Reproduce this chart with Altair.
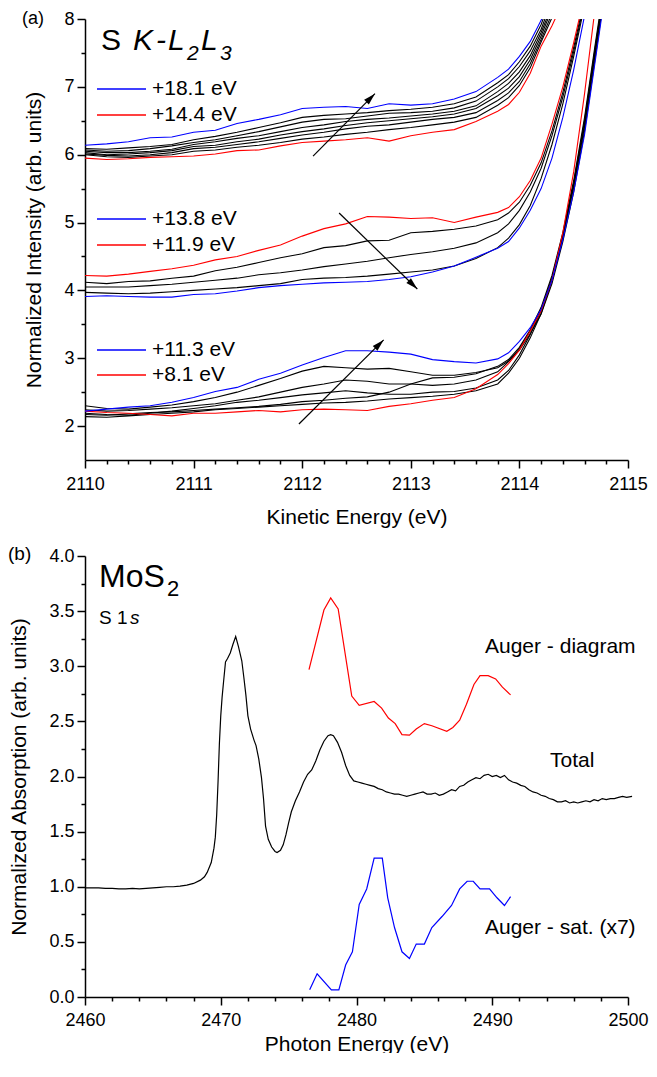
import math
import altair as alt
import pandas as pd

FONT = "Liberation Sans"
BLUE = "#0000ff"
RED = "#ff0000"
BLACK = "#000000"
W, H = 543, 441

# ---------------- panel (a): S K-L2L3 Auger spectra ----------------
E_GRID = [2110.0, 2110.2, 2110.4, 2110.6, 2110.8, 2111.0, 2111.2, 2111.4, 2111.6, 2111.8,
          2112.0, 2112.2, 2112.4, 2112.6, 2112.8, 2113.0, 2113.2, 2113.4, 2113.6, 2113.8,
          2113.9, 2114.0, 2114.1, 2114.2, 2114.3, 2114.4, 2114.5, 2114.6, 2114.7, 2114.8]

top_blue = [6.14, 6.16, 6.19, 6.25, 6.26, 6.33, 6.36, 6.46, 6.52, 6.59, 6.68, 6.70, 6.71, 6.68, 6.75,
            6.73, 6.75, 6.82, 6.93, 7.14, 7.26, 7.45, 7.67, 7.98, 8.40]
top_k1 = [6.09, 6.08, 6.10, 6.12, 6.15, 6.22, 6.27, 6.33, 6.40, 6.47, 6.55, 6.58, 6.60, 6.62, 6.65,
          6.67, 6.70, 6.75, 6.85, 7.06, 7.18, 7.37, 7.60, 7.92, 8.35]
top_k2 = [6.07, 6.05, 6.06, 6.09, 6.13, 6.18, 6.22, 6.28, 6.34, 6.41, 6.48, 6.52, 6.53, 6.57, 6.61,
          6.62, 6.64, 6.69, 6.79, 7.00, 7.12, 7.30, 7.53, 7.85, 8.28]
top_k3 = [6.05, 6.03, 6.03, 6.05, 6.08, 6.15, 6.19, 6.24, 6.28, 6.34, 6.40, 6.44, 6.49, 6.52, 6.54,
          6.57, 6.60, 6.64, 6.72, 6.93, 7.05, 7.22, 7.46, 7.80, 8.20]
top_k4 = [6.03, 6.00, 6.01, 6.03, 6.06, 6.12, 6.14, 6.19, 6.23, 6.29, 6.34, 6.38, 6.43, 6.47, 6.50,
          6.53, 6.56, 6.60, 6.68, 6.87, 6.98, 7.15, 7.40, 7.75, 8.15]
top_k5 = [6.01, 5.99, 5.98, 6.00, 6.03, 6.09, 6.11, 6.15, 6.19, 6.24, 6.29, 6.33, 6.38, 6.42, 6.44,
          6.48, 6.52, 6.55, 6.62, 6.80, 6.91, 7.08, 7.34, 7.70, 8.08]
top_k6 = [6.00, 5.97, 5.96, 5.98, 6.00, 6.05, 6.07, 6.11, 6.14, 6.18, 6.23, 6.26, 6.30, 6.33, 6.37,
          6.40, 6.44, 6.48, 6.55, 6.73, 6.84, 7.02, 7.28, 7.66, 8.02]
top_red = [5.95, 5.93, 5.94, 5.96, 5.97, 5.98, 6.01, 6.06, 6.07, 6.13, 6.18, 6.20, 6.22, 6.25, 6.20,
           6.28, 6.33, 6.37, 6.49, 6.64, 6.74, 6.92, 7.20, 7.60, 7.90, 8.25]

mid_red = [4.22, 4.21, 4.24, 4.28, 4.32, 4.37, 4.45, 4.50, 4.59, 4.67, 4.80, 4.91, 4.98, 5.09, 5.08,
           5.06, 5.07, 5.00, 5.08, 5.15, 5.22, 5.38, 5.62, 5.95, 6.45, 7.00, 7.65, 8.35]
mid_k1 = [4.12, 4.10, 4.13, 4.14, 4.18, 4.21, 4.29, 4.34, 4.41, 4.48, 4.54, 4.63, 4.66, 4.73, 4.74,
          4.85, 4.87, 4.90, 4.95, 5.04, 5.14, 5.30, 5.55, 5.88, 6.35, 6.92, 7.58, 8.30]
mid_k2 = [4.05, 4.05, 4.05, 4.07, 4.09, 4.12, 4.15, 4.18, 4.23, 4.26, 4.30, 4.35, 4.39, 4.43, 4.48,
          4.53, 4.57, 4.62, 4.70, 4.85, 4.98, 5.18, 5.45, 5.80, 6.28, 6.85, 7.52, 8.25]
mid_k3 = [3.97, 3.96, 3.95, 3.96, 3.98, 4.00, 4.02, 4.04, 4.07, 4.10, 4.16, 4.18, 4.19, 4.21, 4.24,
          4.27, 4.30, 4.36, 4.47, 4.63, 4.77, 4.97, 5.25, 5.65, 6.15, 6.75, 7.45, 8.20]
mid_blue = [3.91, 3.92, 3.91, 3.90, 3.90, 3.94, 3.95, 3.99, 4.04, 4.07, 4.09, 4.11, 4.12, 4.13, 4.16,
            4.20, 4.27, 4.36, 4.49, 4.62, 4.72, 4.92, 5.18, 5.50, 5.95, 6.55, 7.25, 8.05]

bot_blue = [2.22, 2.25, 2.28, 2.30, 2.35, 2.42, 2.51, 2.57, 2.69, 2.78, 2.90, 3.01, 3.11, 3.11, 3.09,
            3.06, 2.98, 2.95, 2.93, 2.99, 3.08, 3.25, 3.45, 3.72, 4.15, 4.75, 5.45, 6.30, 7.40, 8.50]
bot_k1 = [2.30, 2.26, 2.25, 2.28, 2.31, 2.36, 2.42, 2.50, 2.60, 2.70, 2.81, 2.88, 2.86, 2.84, 2.85,
          2.80, 2.75, 2.75, 2.79, 2.86, 2.96, 3.12, 3.36, 3.65, 4.10, 4.72, 5.45, 6.35, 7.45, 8.55]
bot_k2 = [2.24, 2.22, 2.23, 2.25, 2.27, 2.30, 2.33, 2.38, 2.43, 2.50, 2.57, 2.62, 2.68, 2.66, 2.62,
          2.62, 2.60, 2.62, 2.68, 2.80, 2.95, 3.14, 3.40, 3.72, 4.18, 4.80, 5.55, 6.45, 7.55, 8.60]
bot_k3 = [2.17, 2.16, 2.18, 2.20, 2.21, 2.23, 2.25, 2.27, 2.29, 2.32, 2.36, 2.38, 2.41, 2.43, 2.50,
          2.62, 2.71, 2.72, 2.77, 2.88, 2.98, 3.16, 3.42, 3.75, 4.22, 4.85, 5.62, 6.55, 7.65, 8.70]
bot_k4 = [2.19, 2.17, 2.16, 2.19, 2.22, 2.26, 2.30, 2.35, 2.38, 2.42, 2.46, 2.49, 2.52, 2.49, 2.47,
          2.47, 2.50, 2.51, 2.56, 2.68, 2.82, 3.05, 3.35, 3.70, 4.18, 4.82, 5.58, 6.50, 7.60, 8.65]
bot_k5 = [2.14, 2.13, 2.15, 2.17, 2.19, 2.21, 2.24, 2.26, 2.28, 2.30, 2.32, 2.34, 2.35, 2.37, 2.40,
          2.42, 2.44, 2.47, 2.52, 2.62, 2.78, 3.00, 3.30, 3.66, 4.14, 4.78, 5.52, 6.42, 7.52, 8.60]
bot_red = [2.22, 2.20, 2.19, 2.17, 2.15, 2.19, 2.19, 2.21, 2.23, 2.21, 2.24, 2.25, 2.24, 2.23, 2.29,
           2.33, 2.38, 2.42, 2.55, 2.76, 2.92, 3.12, 3.40, 3.70, 4.15, 4.85, 5.75, 6.90, 8.20]

CURVES_A = [
    ("top_k1", BLACK, top_k1), ("top_k2", BLACK, top_k2), ("top_k3", BLACK, top_k3),
    ("top_k4", BLACK, top_k4), ("top_k5", BLACK, top_k5), ("top_k6", BLACK, top_k6),
    ("mid_k1", BLACK, mid_k1), ("mid_k2", BLACK, mid_k2), ("mid_k3", BLACK, mid_k3),
    ("bot_k1", BLACK, bot_k1), ("bot_k2", BLACK, bot_k2), ("bot_k3", BLACK, bot_k3),
    ("bot_k4", BLACK, bot_k4), ("bot_k5", BLACK, bot_k5),
    ("top_red", RED, top_red), ("top_blue", BLUE, top_blue),
    ("mid_red", RED, mid_red), ("mid_blue", BLUE, mid_blue),
    ("bot_red", RED, bot_red), ("bot_blue", BLUE, bot_blue),
]

LEGEND_LABELS = ["+18.1 eV", "+14.4 eV", "+13.8 eV", "+11.9 eV", "+11.3 eV", "+8.1 eV"]
LEGEND_COLORS = [BLUE, RED, BLUE, RED, BLUE, RED]
LEGEND_PY = [70, 96, 200, 226, 331, 356]

# arrows (tail E, tail I, head E, head I)
ARROWS_A = [(2112.10, 5.98, 2112.67, 6.90),
            (2112.34, 5.14, 2113.06, 4.02),
            (2111.97, 2.03, 2112.75, 3.27)]

X_A = [2110, 2115]
Y_A = [1.5, 8]
XMAJ_A = [2110, 2111, 2112, 2113, 2114, 2115]
XMIN_A = [2110.2, 2110.4, 2110.6, 2110.8, 2111.2, 2111.4, 2111.6, 2111.8, 2112.2, 2112.4,
          2112.6, 2112.8, 2113.2, 2113.4, 2113.6, 2113.8, 2114.2, 2114.4, 2114.6, 2114.8]
YMAJ_A = [2, 3, 4, 5, 6, 7, 8]
YMIN_A = [2.5, 3.5, 4.5, 5.5, 6.5, 7.5]

# ---------------- panel (b): MoS2 S 1s absorption ----------------
TOTAL_B = [
    (2460.0, 0.99), (2460.5, 0.99), (2461.0, 0.99), (2461.5, 0.985), (2462.0, 0.985),
    (2462.5, 0.98), (2463.0, 0.98), (2463.5, 0.985), (2464.0, 0.98), (2464.5, 0.985),
    (2465.0, 0.99), (2465.5, 0.995), (2466.0, 1.0), (2466.5, 1.0), (2467.0, 1.005),
    (2467.5, 1.015), (2468.0, 1.03), (2468.5, 1.06), (2468.8, 1.09), (2469.0, 1.13),
    (2469.3, 1.22), (2469.5, 1.35), (2469.6, 1.45), (2469.7, 1.65), (2469.8, 1.95),
    (2469.9, 2.30), (2470.0, 2.55), (2470.1, 2.72), (2470.2, 2.85), (2470.35, 3.04),
    (2470.5, 3.07), (2470.7, 3.12), (2470.9, 3.20), (2471.1, 3.27), (2471.3, 3.18),
    (2471.55, 3.05), (2471.7, 2.90), (2471.85, 2.74), (2472.0, 2.55), (2472.2, 2.43),
    (2472.45, 2.33), (2472.6, 2.28), (2472.8, 2.16), (2473.0, 1.99), (2473.15, 1.80),
    (2473.3, 1.55), (2473.5, 1.43), (2473.75, 1.36), (2474.0, 1.32), (2474.15, 1.31),
    (2474.4, 1.33), (2474.6, 1.38), (2474.8, 1.47), (2475.0, 1.58), (2475.2, 1.68),
    (2475.5, 1.78), (2475.8, 1.86), (2476.1, 1.95), (2476.4, 2.02), (2476.7, 2.06),
    (2477.0, 2.14), (2477.3, 2.24), (2477.6, 2.32), (2477.9, 2.37), (2478.1, 2.38),
    (2478.3, 2.37), (2478.6, 2.31), (2478.9, 2.22), (2479.2, 2.10), (2479.5, 2.01),
    (2479.8, 1.96), (2480.1, 1.95), (2480.4, 1.94), (2480.7, 1.93), (2481.0, 1.92),
    (2481.3, 1.91), (2481.6, 1.89), (2481.9, 1.88), (2482.2, 1.86), (2482.5, 1.85),
    (2482.8, 1.84), (2483.1, 1.84), (2483.4, 1.83), (2483.7, 1.82), (2484.0, 1.83),
    (2484.3, 1.84), (2484.6, 1.85), (2484.9, 1.86), (2485.2, 1.84), (2485.5, 1.84),
    (2485.8, 1.85), (2486.1, 1.83), (2486.4, 1.84), (2486.7, 1.86), (2487.0, 1.88),
    (2487.3, 1.87), (2487.6, 1.91), (2487.9, 1.92), (2488.2, 1.95), (2488.5, 1.97),
    (2488.8, 1.99), (2489.1, 1.98), (2489.4, 2.01), (2489.7, 2.02), (2490.0, 2.00),
    (2490.3, 2.01), (2490.6, 1.99), (2490.9, 2.01), (2491.2, 1.97), (2491.5, 1.95),
    (2491.8, 1.94), (2492.1, 1.92), (2492.4, 1.91), (2492.7, 1.88), (2493.0, 1.86),
    (2493.3, 1.85), (2493.6, 1.83), (2493.9, 1.82), (2494.2, 1.80), (2494.5, 1.79),
    (2494.8, 1.77), (2495.1, 1.77), (2495.4, 1.78), (2495.7, 1.76), (2496.0, 1.77),
    (2496.3, 1.76), (2496.6, 1.77), (2496.9, 1.78), (2497.2, 1.77), (2497.5, 1.79),
    (2497.8, 1.78), (2498.1, 1.80), (2498.4, 1.79), (2498.7, 1.80), (2499.0, 1.80),
    (2499.3, 1.81), (2499.6, 1.82), (2499.9, 1.81), (2500.3, 1.82),
]
AUGER_DIAG_B = [
    (2476.5, 2.97), (2477.6, 3.51), (2478.1, 3.62), (2478.65, 3.52), (2479.65, 2.73),
    (2480.2, 2.645), (2481.3, 2.68), (2481.85, 2.62), (2482.35, 2.53), (2482.85, 2.48),
    (2483.35, 2.38), (2483.9, 2.375), (2484.4, 2.43), (2485.0, 2.48), (2485.55, 2.46),
    (2486.65, 2.41), (2487.1, 2.445), (2487.6, 2.51), (2488.1, 2.655), (2488.65, 2.835),
    (2489.1, 2.915), (2489.7, 2.915), (2490.25, 2.885), (2490.75, 2.81), (2491.35, 2.74),
]
AUGER_SAT_B = [
    (2476.55, 0.065), (2477.1, 0.21), (2478.15, 0.065), (2478.7, 0.065), (2479.2, 0.29),
    (2479.7, 0.41), (2480.2, 0.84), (2480.75, 0.98), (2481.3, 1.26), (2481.9, 1.26),
    (2482.3, 0.90), (2482.8, 0.63), (2483.35, 0.41), (2483.9, 0.35), (2484.4, 0.48),
    (2485.0, 0.48), (2485.55, 0.63), (2486.3, 0.73), (2487.0, 0.83), (2487.6, 0.98),
    (2488.15, 1.05), (2488.6, 1.05), (2489.1, 0.98), (2489.8, 0.98), (2490.35, 0.90),
    (2490.9, 0.83), (2491.35, 0.91),
]
CURVES_B = [("total", BLACK, TOTAL_B), ("diagram", RED, AUGER_DIAG_B), ("sat", BLUE, AUGER_SAT_B)]

X_B = [2460, 2500]
Y_B = [0, 4]
XMAJ_B = [2460, 2470, 2480, 2490, 2500]
XMIN_B = [2462, 2464, 2466, 2468, 2472, 2474, 2476, 2478, 2482, 2484, 2486, 2488,
          2492, 2494, 2496, 2498]
YMAJ_B = [0.0, 0.5, 1.0, 1.5, 2.0, 2.5, 3.0, 3.5, 4.0]
YMIN_B = [0.25, 0.75, 1.25, 1.75, 2.25, 2.75, 3.25, 3.75]

# ---------------- helpers ----------------
ONE = pd.DataFrame({"k": [0]})
ARROW_SHAPE = "M0,0L-0.6,2.2L0.6,2.2Z"
LABEL_SIZE = 18
TITLE_SIZE = 21


def major_axis(values, title, fmt, orient, lpad, tpad):
    return alt.Axis(values=values, title=title, format=fmt, orient=orient,
                    tickSize=8, tickWidth=1.5, tickColor="black",
                    domainColor="black", domainWidth=1.5,
                    labelFont=FONT, labelFontSize=LABEL_SIZE, labelColor="black",
                    labelPadding=lpad, labelFlush=False, labelOverlap=False,
                    titleFont=FONT, titleFontSize=TITLE_SIZE, titleFontWeight="normal",
                    titleColor="black", titlePadding=tpad, grid=False)


def minor_axis(values, orient):
    return alt.Axis(values=values, title=None, orient=orient, labels=False, domain=False,
                    tickSize=4, tickWidth=1.5, tickColor="black", grid=False)


def txt(s, x, y, size, style="normal", baseline="alphabetic"):
    return alt.Chart(ONE).mark_text(text=s, font=FONT, fontSize=size, fontStyle=style,
                                    align="left", baseline=baseline, color="black").encode(
        x=alt.value(x), y=alt.value(y))


# ---------------- build panel (a) ----------------
rows = []
for name, col, vals in CURVES_A:
    for e, v in zip(E_GRID, vals):
        rows.append({"E": e, "I": v, "curve": name, "col": col})
df_a = pd.DataFrame(rows)

px_e = W / (X_A[1] - X_A[0])
px_i = H / (Y_A[1] - Y_A[0])
arr_rows = []
for x1, y1, x2, y2 in ARROWS_A:
    dx = (x2 - x1) * px_e
    dy = -(y2 - y1) * px_i
    ang = math.degrees(math.atan2(dx, -dy)) % 360
    arr_rows.append({"x1": x1, "y1": y1, "x2": x2, "y2": y2, "ang": ang})
df_arr = pd.DataFrame(arr_rows)

df_leg = pd.DataFrame({"label": LEGEND_LABELS, "col": LEGEND_COLORS, "py": LEGEND_PY})

xs_a = alt.Scale(domain=X_A, nice=False, zero=False)
ys_a = alt.Scale(domain=Y_A, nice=False, zero=False)

lines_a = alt.Chart(df_a).mark_line(strokeWidth=1.1, clip=True).encode(
    x=alt.X("E:Q", scale=xs_a, axis=major_axis(XMAJ_A, "Kinetic Energy (eV)", "d", "bottom", 7, 13)),
    y=alt.Y("I:Q", scale=ys_a, axis=major_axis(YMAJ_A, "Normalized Intensity (arb. units)", "d", "left", 3, 19)),
    color=alt.Color("col:N", scale=None),
    detail="curve:N",
)
shafts_a = alt.Chart(df_arr).mark_rule(color="black", strokeWidth=1.2).encode(
    x=alt.X("x1:Q", scale=xs_a, axis=minor_axis(XMIN_A, "bottom")),
    y=alt.Y("y1:Q", scale=ys_a, axis=minor_axis(YMIN_A, "left")),
    x2="x2:Q", y2="y2:Q",
)
heads_a = alt.Chart(df_arr).mark_point(shape=ARROW_SHAPE, filled=True, size=120, color="black",
                                       opacity=1, strokeWidth=0).encode(
    x=alt.X("x2:Q", scale=xs_a, axis=None),
    y=alt.Y("y2:Q", scale=ys_a, axis=None),
    angle=alt.Angle("ang:Q", scale=None),
)
leg_lines = alt.Chart(df_leg).mark_rule(strokeWidth=1.3).encode(
    x=alt.value(12), x2=alt.value(61),
    y=alt.Y("py:Q", scale=None, axis=None),
    color=alt.Color("col:N", scale=None),
)
leg_text = alt.Chart(df_leg).mark_text(font=FONT, fontSize=21, align="left", baseline="middle",
                                       color="black").encode(
    x=alt.value(67),
    y=alt.Y("py:Q", scale=None, axis=None),
    text="label:N",
)

deco_a = [txt("(a)", -63, 5, 18),
          txt("S", 16, 31, 30),
          txt("K", 48, 31, 30, "italic"),
          txt("-", 71, 31, 30, "italic"),
          txt("L", 83, 31, 30, "italic"),
          txt("2", 102, 41, 21, "italic"),
          txt("L", 116, 31, 30, "italic"),
          txt("3", 135, 41, 21, "italic")]

panel_a = alt.layer(lines_a, shafts_a, heads_a, leg_lines, leg_text, *deco_a).resolve_axis(
    x="independent", y="independent").properties(width=W, height=H)

# ---------------- build panel (b) ----------------
rows_b = []
for name, col, pts in CURVES_B:
    for e, v in pts:
        rows_b.append({"E": e, "A": v, "curve": name, "col": col})
df_b = pd.DataFrame(rows_b)

xs_b = alt.Scale(domain=X_B, nice=False, zero=False)
ys_b = alt.Scale(domain=Y_B, nice=False, zero=False)

lines_b = alt.Chart(df_b).mark_line(strokeWidth=1.2).encode(
    x=alt.X("E:Q", scale=xs_b, axis=major_axis(XMAJ_B, "Photon Energy (eV)", "d", "bottom", 6, 4)),
    y=alt.Y("A:Q", scale=ys_b, axis=major_axis(YMAJ_B, "Normalized Absorption (arb. units)", ".1f", "left", 3, 19)),
    color=alt.Color("col:N", scale=None),
    detail="curve:N",
)
minor_b = alt.Chart(df_b).mark_line(strokeWidth=0, opacity=0).encode(
    x=alt.X("E:Q", scale=xs_b, axis=minor_axis(XMIN_B, "bottom")),
    y=alt.Y("A:Q", scale=ys_b, axis=minor_axis(YMIN_B, "left")),
    detail="curve:N",
)
deco_b = [txt("(b)", -77, 4, 19),
          txt("MoS", 14, 31, 32),
          txt("2", 82, 40, 22),
          txt("S 1", 14, 68, 19),
          txt("s", 45, 68, 19, "italic"),
          txt("Auger - diagram", 400, 97, 21),
          txt("Total", 465, 211, 21),
          txt("Auger - sat. (x7)", 400, 378, 21)]

panel_b = alt.layer(lines_b, minor_b, *deco_b).resolve_axis(
    x="independent", y="independent").properties(width=W, height=H)

chart = alt.vconcat(panel_a, panel_b, spacing=18).properties(
    padding={"left": 0, "top": 2, "right": 0, "bottom": -1}
).configure_view(strokeWidth=0)

chart.save("out.html", embed_options={"renderer": "svg", "actions": False})
